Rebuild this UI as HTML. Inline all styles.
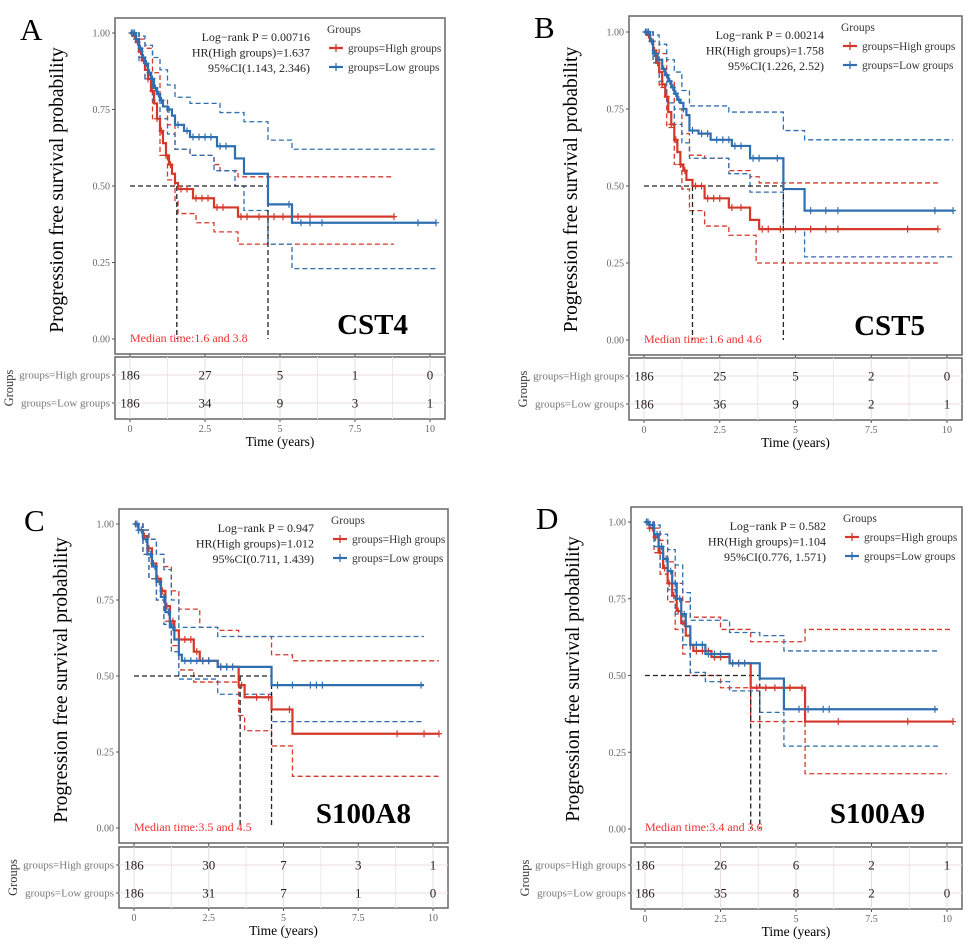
<!DOCTYPE html>
<html><head><meta charset="utf-8">
<style>
html,body{margin:0;padding:0;background:#fff;}
svg{display:block;font-family:"Liberation Serif",serif;}
</style></head>
<body>
<svg id="fig" width="969" height="944" viewBox="0 0 969 944"></svg>
<script>
// ---------- data ----------
const panelLetters = ["A","B","C","D"];
const geneNames = ["CST4","CST5","S100A8","S100A9"];
const logRankP = ["0.00716","0.00214","0.947","0.582"];
const hrVals = ["1.637","1.758","1.012","1.104"];
const ciVals = ["1.143, 2.346","1.226, 2.52","0.711, 1.439","0.776, 1.571"];
const medianText = ["1.6 and 3.8","1.6 and 4.6","3.5 and 4.5","3.4 and 3.6"];
const medianHigh = [1.56, 1.6, 3.55, 3.5];
const medianLow = [4.6, 4.6, 4.6, 3.8];
const riskTimes = [0, 2.5, 5, 7.5, 10];
const riskHigh = [[186,27,5,1,0],[186,25,5,2,0],[186,30,7,3,1],[186,26,6,2,1]];
const riskLow = [[186,34,9,3,1],[186,36,9,2,1],[186,31,7,1,0],[186,35,8,2,0]];
const xTicks = [0, 2.5, 5, 7.5, 10];
const xTickLabels = ["0","2.5","5","7.5","10"];
const yTicks = [0, 0.25, 0.5, 0.75, 1];
const yTickLabels = ["0.00","0.25","0.50","0.75","1.00"];

const highCurves = [
 [[0,1],[0.1,0.99],[0.2,0.97],[0.3,0.94],[0.4,0.91],[0.5,0.88],[0.6,0.85],[0.7,0.81],[0.8,0.77],[0.9,0.72],[1.0,0.68],[1.1,0.64],[1.2,0.6],[1.3,0.57],[1.4,0.54],[1.5,0.51],[1.6,0.49],[2.1,0.46],[2.8,0.43],[3.6,0.40],[8.8,0.40]],
 [[0,1],[0.1,0.99],[0.2,0.97],[0.3,0.94],[0.4,0.9],[0.5,0.87],[0.6,0.83],[0.7,0.79],[0.8,0.74],[0.9,0.7],[1,0.65],[1.1,0.61],[1.2,0.57],[1.3,0.55],[1.4,0.52],[1.6,0.50],[2.0,0.46],[2.8,0.43],[3.5,0.39],[3.8,0.36],[9.7,0.36]],
 [[0,1],[0.15,0.98],[0.3,0.96],[0.45,0.92],[0.6,0.87],[0.75,0.82],[0.9,0.78],[1.05,0.73],[1.2,0.68],[1.35,0.65],[1.5,0.62],[2,0.58],[2.2,0.55],[2.8,0.53],[3.5,0.47],[3.7,0.43],[4.6,0.39],[5.3,0.31],[10.2,0.31]],
 [[0,1],[0.15,0.98],[0.3,0.95],[0.45,0.9],[0.6,0.85],[0.75,0.8],[0.9,0.76],[1.05,0.71],[1.2,0.67],[1.35,0.63],[1.5,0.6],[1.6,0.58],[2.2,0.56],[2.8,0.54],[3.5,0.46],[5.3,0.35],[10.2,0.35]]
];
const lowCurves = [
 [[0,1],[0.2,0.98],[0.3,0.95],[0.4,0.92],[0.5,0.9],[0.6,0.87],[0.7,0.85],[0.8,0.82],[0.9,0.8],[1.0,0.78],[1.1,0.76],[1.25,0.75],[1.4,0.73],[1.5,0.70],[1.8,0.68],[2.0,0.66],[2.9,0.63],[3.5,0.59],[3.8,0.54],[4.6,0.44],[5.4,0.38],[10.2,0.38]],
 [[0,1],[0.2,0.97],[0.3,0.93],[0.45,0.91],[0.6,0.88],[0.7,0.86],[0.8,0.84],[0.9,0.82],[1,0.8],[1.1,0.78],[1.2,0.77],[1.3,0.75],[1.4,0.73],[1.5,0.68],[1.8,0.67],[2.2,0.65],[2.9,0.63],[3.5,0.59],[4.6,0.49],[5.3,0.42],[10.2,0.42]],
 [[0,1],[0.15,0.98],[0.3,0.95],[0.45,0.9],[0.6,0.86],[0.75,0.81],[0.9,0.76],[1.05,0.71],[1.2,0.66],[1.35,0.62],[1.5,0.57],[1.6,0.55],[2.8,0.53],[4.6,0.47],[9.7,0.47]],
 [[0,1],[0.15,0.99],[0.3,0.96],[0.45,0.92],[0.6,0.88],[0.75,0.84],[0.9,0.8],[1.05,0.75],[1.2,0.7],[1.35,0.66],[1.5,0.6],[2,0.57],[2.8,0.54],[3.8,0.49],[4.6,0.39],[9.7,0.39]]
];
const highUpper = [
 [[0,1],[0.3,0.98],[0.5,0.95],[0.75,0.87],[1,0.78],[1.25,0.7],[1.5,0.62],[2,0.6],[2.8,0.57],[3,0.55],[3.6,0.53],[8.8,0.53]],
 [[0,1],[0.3,0.97],[0.5,0.93],[0.75,0.84],[1,0.75],[1.25,0.67],[1.5,0.6],[2,0.59],[2.8,0.55],[3.5,0.53],[3.8,0.51],[9.7,0.51]],
 [[0,1],[0.3,0.98],[0.5,0.95],[0.75,0.9],[1,0.86],[1.25,0.78],[1.5,0.72],[2.2,0.66],[2.8,0.65],[3.5,0.63],[4.6,0.57],[5.3,0.55],[10.2,0.55]],
 [[0,1],[0.3,0.98],[0.5,0.94],[0.75,0.87],[1,0.8],[1.25,0.74],[1.5,0.69],[2.5,0.65],[3.5,0.61],[5.3,0.65],[10.2,0.65]]
];
const highLower = [
 [[0,1],[0.3,0.92],[0.5,0.85],[0.75,0.72],[1,0.6],[1.25,0.52],[1.5,0.45],[1.6,0.41],[2.2,0.38],[2.8,0.35],[3.6,0.31],[8.8,0.31]],
 [[0,1],[0.3,0.9],[0.5,0.82],[0.75,0.69],[1,0.57],[1.25,0.49],[1.5,0.42],[2,0.37],[2.8,0.34],[3.7,0.25],[9.7,0.25]],
 [[0,1],[0.3,0.9],[0.5,0.82],[0.75,0.75],[1,0.68],[1.25,0.6],[1.5,0.52],[2,0.48],[3.5,0.37],[3.7,0.32],[4.6,0.27],[5.3,0.17],[10.2,0.17]],
 [[0,1],[0.3,0.9],[0.5,0.83],[0.75,0.74],[1,0.65],[1.25,0.57],[1.5,0.5],[2.5,0.46],[3.5,0.35],[5.3,0.18],[10.0,0.18]]
];
const lowUpper = [
 [[0,1],[0.3,0.99],[0.5,0.96],[0.75,0.92],[1,0.88],[1.25,0.83],[1.5,0.79],[2,0.77],[3,0.74],[3.8,0.71],[4.6,0.65],[5.4,0.62],[10.2,0.62]],
 [[0,1],[0.3,0.99],[0.5,0.96],[0.75,0.91],[1,0.87],[1.25,0.81],[1.5,0.76],[2.8,0.74],[4.6,0.68],[5.3,0.65],[10.2,0.65]],
 [[0,1],[0.3,0.98],[0.5,0.95],[0.75,0.9],[1,0.85],[1.25,0.75],[1.5,0.66],[2.8,0.63],[9.7,0.63]],
 [[0,1],[0.3,0.99],[0.5,0.96],[0.75,0.91],[1,0.86],[1.25,0.77],[1.5,0.68],[2.8,0.64],[3.8,0.63],[4.6,0.58],[9.7,0.58]]
];
const lowLower = [
 [[0,1],[0.3,0.91],[0.5,0.85],[0.75,0.78],[1,0.72],[1.25,0.67],[1.5,0.62],[2,0.6],[2.8,0.55],[3.5,0.5],[3.8,0.42],[4.6,0.31],[5.4,0.23],[10.2,0.23]],
 [[0,1],[0.3,0.9],[0.5,0.84],[0.75,0.77],[1,0.7],[1.25,0.64],[1.5,0.59],[2.8,0.54],[3.5,0.48],[4.6,0.36],[5.3,0.27],[10.2,0.27]],
 [[0,1],[0.3,0.9],[0.5,0.82],[0.75,0.75],[1,0.67],[1.25,0.58],[1.5,0.49],[2.8,0.44],[4.6,0.35],[9.7,0.35]],
 [[0,1],[0.3,0.92],[0.5,0.85],[0.75,0.78],[1,0.7],[1.25,0.6],[1.5,0.51],[2,0.48],[2.8,0.45],[3.8,0.38],[4.6,0.27],[9.7,0.27]]
];
const highCensor = [
 [0.05,0.15,0.25,0.35,0.45,0.6,0.75,0.9,1.05,1.2,1.35,1.7,1.9,2.2,2.4,2.6,2.9,3.1,3.7,3.9,4.3,4.8,5.1,5.6,6.0,8.8],
 [0.05,0.15,0.25,0.35,0.45,0.6,0.75,0.9,1.05,1.2,1.35,1.7,1.9,2.1,2.3,2.5,2.9,3.2,3.9,4.1,4.5,5.0,5.5,6.0,6.4,8.7,9.7],
 [0.05,0.15,0.25,0.35,0.5,0.65,0.8,0.95,1.1,1.3,1.7,1.9,2.1,2.3,2.5,2.9,3.1,3.6,4.1,4.5,5.2,8.8,9.7,10.2],
 [0.05,0.15,0.25,0.35,0.5,0.65,0.8,0.95,1.1,1.3,1.7,1.9,2.1,2.3,2.5,2.9,3.1,3.7,4.0,4.3,4.8,5.2,6.4,8.7,10.2]
];
const lowCensor = [
 [0.05,0.1,0.15,0.2,0.35,0.45,0.55,0.65,0.75,0.85,0.95,1.05,1.3,1.6,1.9,2.1,2.3,2.5,2.7,3.0,3.2,5.3,5.7,6.0,6.4,9.6,10.2],
 [0.05,0.1,0.15,0.25,0.35,0.5,0.65,0.75,0.85,0.95,1.05,1.15,1.3,1.6,1.9,2.1,2.4,2.6,2.8,3.0,3.2,3.6,3.8,4.4,5.5,6.0,6.4,9.6,10.2],
 [0.05,0.1,0.15,0.25,0.4,0.55,0.7,0.85,1.0,1.15,1.3,1.7,1.9,2.1,2.3,2.5,2.9,3.1,3.3,4.8,5.3,5.9,6.1,6.3,9.6],
 [0.05,0.1,0.15,0.25,0.4,0.55,0.7,0.85,1.0,1.15,1.3,1.7,1.9,2.1,2.3,2.5,2.9,3.1,3.3,5.1,5.4,5.9,6.1,9.6]
];

// ---------- layout (pixel geometry) ----------
const layout = [
 {L:115,T:18,R:445,B:354,x0:130,x10:430,y1:33,y0:339,tT:357,tB:419},
 {L:629,T:16,R:962,B:355,x0:644,x10:947,y1:32,y0:340,tT:358,tB:420},
 {L:119,T:509,R:448,B:843,x0:134,x10:433,y1:524,y0:828,tT:847,tB:908},
 {L:631,T:507,R:962,B:843,x0:645,x10:947,y1:522,y0:829,tT:847,tB:909}
];
const RED="#d4382b", BLUE="#2f6fb0";
const svg=document.getElementById('fig');
const NS="http://www.w3.org/2000/svg";
function mk(tag,attrs,parent,txt){const e=document.createElementNS(NS,tag);for(const k in attrs)e.setAttribute(k,attrs[k]);if(txt!==undefined)e.textContent=txt;(parent||svg).appendChild(e);return e;}
function stepPath(pts,sx,sy){let d="M"+sx(pts[0][0])+","+sy(pts[0][1]);for(let i=1;i<pts.length;i++){d+=" H"+sx(pts[i][0])+" V"+sy(pts[i][1]);}return d;}
function survAt(pts,t){let s=pts[0][1];for(const p of pts){if(p[0]<=t)s=p[1];}return s;}

for(let p=0;p<4;p++){
  const g=layout[p];
  const sx=t=>g.x0+(g.x10-g.x0)*t/10;
  const sy=v=>g.y0-(g.y0-g.y1)*v;
  const grp=mk('g',{},svg);
  
  

  const letter=mk('text',{x:g.L-95,y:g.T+22,'font-size':31},grp,panelLetters[p]);
  
  

  const box=mk('rect',{x:g.L,y:g.T,width:g.R-g.L,height:g.B-g.T,fill:'#fff',stroke:'#666','stroke-width':1.5},grp);
  
  

  for(let i=0;i<yTicks.length;i++){
    const y=sy(yTicks[i]);
    mk('line',{x1:g.L-3,x2:g.L,y1:y,y2:y,stroke:'#555'},grp);
    const t=mk('text',{x:g.L-5,y:y+3.5,'font-size':10,fill:'#666','text-anchor':'end'},grp,yTickLabels[i]);
    
    
  }
  const yl=mk('text',{x:0,y:0,'font-size':19.5,'text-anchor':'middle',transform:`translate(${g.L-52},${(g.T+g.B)/2+4}) rotate(-90)`},grp,'Progression free survival probability');
  
  

  const ciSets=[[highUpper[p],RED],[highLower[p],RED],[lowUpper[p],BLUE],[lowLower[p],BLUE]];
  for(const [c,col] of ciSets){
    const e=mk('path',{d:stepPath(c,sx,sy),fill:'none',stroke:col,'stroke-width':1.3,'stroke-dasharray':'5,3'},grp);
    
    
  }
  const md=mk('path',{d:`M${sx(0)},${sy(0.5)} H${sx(Math.max(medianHigh[p],medianLow[p]))} M${sx(medianHigh[p])},${sy(0.5)} V${sy(0)} M${sx(medianLow[p])},${sy(0.5)} V${sy(0)}`,fill:'none',stroke:'#222','stroke-width':1.3,'stroke-dasharray':'5,3'},grp);
  
  

  const curveSets=[[highCurves[p],highCensor[p],RED,'high'],[lowCurves[p],lowCensor[p],BLUE,'low']];
  for(const [c,cens,col,nm] of curveSets){
    const e=mk('path',{d:stepPath(c,sx,sy),fill:'none',stroke:col,'stroke-width':2.2},grp);
    
    
    let d="";
    for(const t of cens){const x=sx(t),y=sy(survAt(c,t));d+=`M${x-3},${y}H${x+3}M${x},${y-3.5}V${y+3.5}`;}
    const cm=mk('path',{d:d,stroke:col,'stroke-width':1.2,fill:'none'},grp);
    
    
  }

  const sxr=g.L+195;
  const st=[`Log\u2212rank P = ${logRankP[p]}`,`HR(High groups)=${hrVals[p]}`,`95%CI(${ciVals[p]})`];
  st.forEach((s,i)=>{const t=mk('text',{x:sxr,y:g.T+23+i*15.5,'font-size':12,'text-anchor':'end',fill:'#222'},grp,s);
    
    });
  const lt=mk('text',{x:g.L+212,y:g.T+15,'font-size':11.5,fill:'#333'},grp,'Groups');
  
  
  [[RED,'groups=High groups',0],[BLUE,'groups=Low groups',1]].forEach(([col,lab,i])=>{
    const ly=g.T+30+i*19;
    const lg=mk('g',{},grp);
    
    
    mk('line',{x1:g.L+214,x2:g.L+228,y1:ly,y2:ly,stroke:col,'stroke-width':2.2},lg);
    mk('line',{x1:g.L+221,x2:g.L+221,y1:ly-4,y2:ly+4,stroke:col,'stroke-width':1.3},lg);
    mk('text',{x:g.L+233,y:ly+4,'font-size':11.3,fill:'#333'},lg,lab);
  });
  const mt=mk('text',{x:sx(0),y:g.B-12,'font-size':12,fill:'#f03030'},grp,'Median time:'+medianText[p]);
  
  
  const gn=mk('text',{x:g.R-37,y:g.B-20,'font-size':29,'font-weight':'bold','text-anchor':'end'},grp,geneNames[p]);
  
  

  const tb=mk('rect',{x:g.L,y:g.tT,width:g.R-g.L,height:g.tB-g.tT,fill:'#fff',stroke:'#666','stroke-width':1.5},grp);
  
  
  for(let t=1.25;t<10.5;t+=2.5){mk('line',{x1:sx(t),x2:sx(t),y1:g.tT,y2:g.tB,stroke:'#f2e6e6'},grp);}
  for(const t of xTicks){mk('line',{x1:sx(t),x2:sx(t),y1:g.tT,y2:g.tB,stroke:'#eadcdc'},grp);}
  const rH=g.tT+18, rL=g.tT+46;
  [[rH,riskHigh[p],'groups=High groups'],[rL,riskLow[p],'groups=Low groups']].forEach(([ry,vals,lab])=>{
    mk('line',{x1:g.L,x2:g.R,y1:ry,y2:ry,stroke:'#eadcdc'},grp);
    mk('line',{x1:g.L-3,x2:g.L,y1:ry,y2:ry,stroke:'#555'},grp);
    const l=mk('text',{x:g.L-5,y:ry+3.5,'font-size':11,fill:'#777','text-anchor':'end'},grp,lab);
    
    
    vals.forEach((v,i)=>{const t=mk('text',{x:sx(riskTimes[i]),y:ry+4.5,'font-size':13,'text-anchor':'middle',fill:'#222'},grp,String(v));
      
      });
  });
  const gl=mk('text',{x:0,y:0,'font-size':12.5,'text-anchor':'middle',fill:'#333',transform:`translate(${g.L-102},${(g.tT+g.tB)/2}) rotate(-90)`},grp,'Groups');
  
  
  for(let i=0;i<xTicks.length;i++){
    const x=sx(xTicks[i]);
    mk('line',{x1:x,x2:x,y1:g.tB,y2:g.tB+3,stroke:'#555'},grp);
    mk('line',{x1:x,x2:x,y1:g.B,y2:g.B+3,stroke:'#555'},grp);
    const t=mk('text',{x:x,y:g.tB+13,'font-size':10,fill:'#666','text-anchor':'middle'},grp,xTickLabels[i]);
    
    
  }
  const xt=mk('text',{x:(g.x0+g.x10)/2,y:g.tB+27,'font-size':13.5,'text-anchor':'middle'},grp,'Time (years)');
  
  
}
</script>
</body></html>
